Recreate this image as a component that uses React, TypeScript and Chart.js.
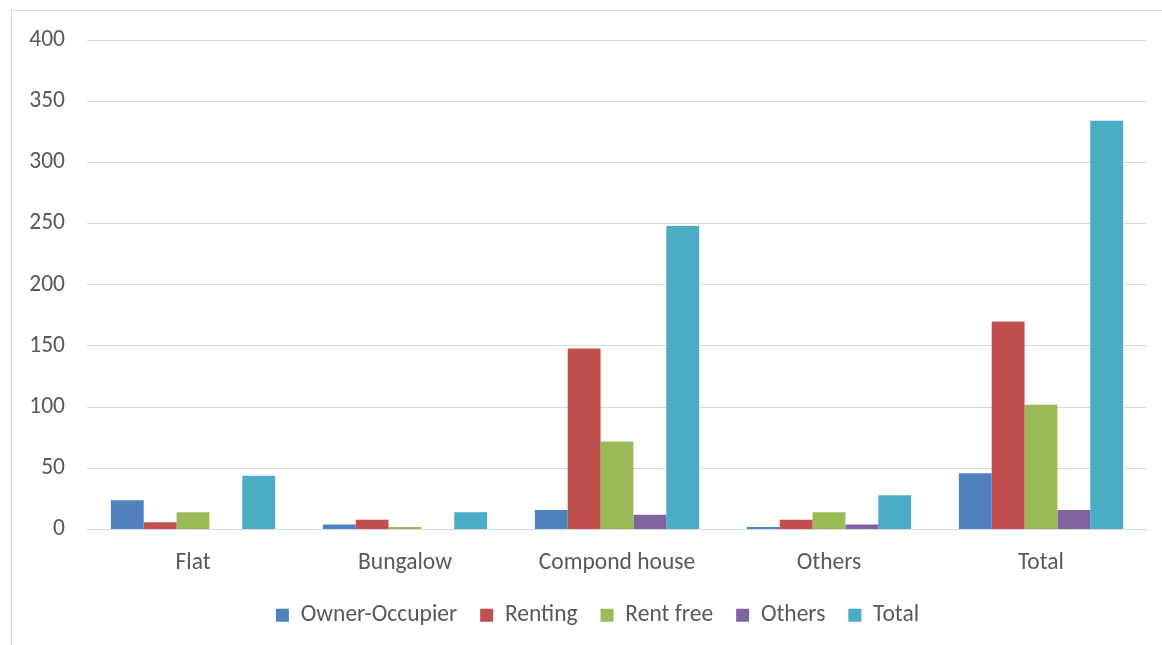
import React, { useEffect, useRef } from "react";
import { Chart, registerables } from "chart.js";

Chart.register(...registerables);

const categories = ["Flat", "Bungalow", "Compond house", "Others", "Total"];
const seriesNames = ["Owner-Occupier", "Renting", "Rent free", "Others", "Total"];
const ownerOccupier = [24, 4, 16, 2, 46];
const renting = [6, 8, 148, 8, 170];
const rentFree = [14, 2, 72, 14, 102];
const others = [0, 0, 12, 4, 16];
const total = [44, 14, 248, 28, 334];
const yTicks = [0, 50, 100, 150, 200, 250, 300, 350, 400];

const seriesValues = [ownerOccupier, renting, rentFree, others, total];
const seriesColors = ["#4F81BD", "#C0504D", "#9BBB59", "#8064A2", "#4BACC6"];

const FONT = "Carlito, Calibri, Lato, 'Noto Sans', sans-serif";
const FONT_SIZE = 23.5;
const TEXT = "#595959";
const GRID = "#D9D9D9";

// Nudges the legend row to the right so it sits under the plot's centre.
const legendShift = {
  id: "legendShift",
  afterLayout(chart: any) {
    const lg = chart.legend;
    if (lg) {
      lg.left += 24;
      lg.right += 24;
    }
  },
};

export default function App() {
  const canvasRef = useRef<HTMLCanvasElement | null>(null);

  useEffect(() => {
    const canvas = canvasRef.current;
    if (!canvas) return;
    const chart = new Chart(canvas, {
      type: "bar",
      data: {
        labels: categories,
        datasets: seriesNames.map((name, i) => ({
          label: name,
          data: seriesValues[i],
          backgroundColor: seriesColors[i],
          borderWidth: 0,
          barPercentage: 1,
          categoryPercentage: 0.775,
        })),
      },
      options: {
        responsive: false,
        animation: false,
        maintainAspectRatio: false,
        layout: { padding: { left: 0, right: 15, top: 40, bottom: 8 } },
        plugins: {
          tooltip: { enabled: false },
          legend: {
            position: "bottom",
            labels: {
              boxWidth: 13,
              boxHeight: 13,
              padding: 23,
              color: TEXT,
              font: { family: FONT, size: FONT_SIZE },
            },
          },
        },
        scales: {
          x: {
            grid: { display: false, drawTicks: false },
            border: { display: true, color: GRID, width: 1 },
            ticks: { color: TEXT, padding: 20, font: { family: FONT, size: FONT_SIZE } },
            afterFit: (scale: any) => {
              scale.height = 51;
            },
          },
          y: {
            min: 0,
            max: 400,
            afterBuildTicks: (scale: any) => {
              scale.ticks = yTicks.map((v) => ({ value: v }));
            },
            grid: { color: GRID, lineWidth: 1, drawTicks: false },
            border: { display: false },
            ticks: { color: TEXT, padding: 22, font: { family: FONT, size: FONT_SIZE } },
            afterFit: (scale: any) => {
              scale.width = 87;
            },
          },
        },
      },
      plugins: [legendShift],
    });
    return () => chart.destroy();
  }, []);

  return (
    <div style={{ position: "absolute", left: 0, top: 0, width: 1162, height: 645, overflow: "hidden", background: "#fff" }}>
      <div
        style={{
          position: "absolute",
          left: 11,
          top: 10,
          width: 1200,
          height: 700,
          borderLeft: `1px solid ${GRID}`,
          borderTop: `1px solid ${GRID}`,
        }}
      />
      <canvas ref={canvasRef} width={1162} height={645} style={{ position: "absolute", left: 0, top: 0 }} />
    </div>
  );
}
